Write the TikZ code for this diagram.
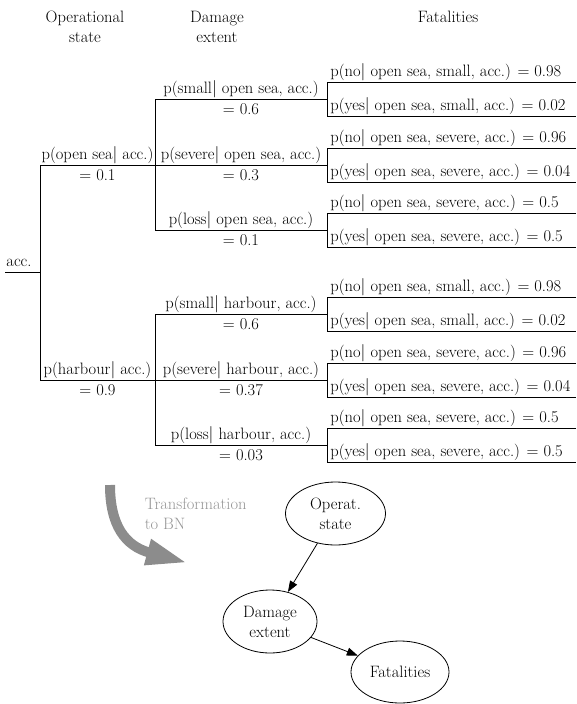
\documentclass[tikz,border=0pt]{standalone}
\usetikzlibrary{arrows.meta,shapes.geometric}
\definecolor{bendgray}{RGB}{140,140,140}
\definecolor{notegray}{RGB}{150,150,150}
\begin{document}
\begin{tikzpicture}[x=1pt,y=-1pt,line width=0.9pt,
  font=\fontsize{16.5}{20}\selectfont,
  uplab/.style={inner sep=0,text height=12pt,text depth=4pt,anchor=south},
  lowlab/.style={inner sep=0,text height=12pt,text depth=4pt,anchor=north},
  leaflab/.style={inner sep=0,text height=12pt,text depth=4pt,anchor=south west},
  bnnode/.style={draw,ellipse,inner sep=0,align=center,line width=0.8pt},
  bnlink/.style={-{Triangle[length=11pt,width=8pt]},line width=0.8pt}]
\useasboundingbox (0,0) rectangle (576,704);

% column headings
\node[align=center] (hOp) at (85,27) {Operational\\state};
\node[align=center] (hDm) at (217,27) {Damage\\extent};
\node (hFa) at (448,17) {Fatalities};

% root and operational state
\coordinate (root) at (5,272);
\coordinate (split) at (40,272);
\coordinate (osA) at (40,165);
\coordinate (hbA) at (40,380);
\coordinate (osB) at (155,165);
\coordinate (hbB) at (155,380);
\node[leaflab,anchor=south west] (accL) at (6,271) {acc.};
\draw (root) -- (split);
\draw (osA) -- (hbA);
\draw (osA) -- (osB);
\draw (hbA) -- (hbB);
\node[uplab] (osU) at (97.5,164) {p(open sea$|$ acc.)};
\node[lowlab] (osD) at (97.5,168) {= 0.1};
\node[uplab] (hbU) at (97.5,379) {p(harbour$|$ acc.)};
\node[lowlab] (hbD) at (97.5,383) {= 0.9};

% damage extent branches
\coordinate (osTop) at (155,99);
\coordinate (osBot) at (155,230);
\coordinate (hbTop) at (155,314);
\coordinate (hbBot) at (155,445);
\draw (osTop) -- (osBot);
\draw (hbTop) -- (hbBot);

\foreach \nm/\y/\up/\dn in {
  a/99/{p(small$|$ open sea, acc.)}/{= 0.6},
  b/165/{p(severe$|$ open sea, acc.)}/{= 0.3},
  c/230/{p(loss$|$ open sea, acc.)}/{= 0.1},
  d/314/{p(small$|$ harbour, acc.)}/{= 0.6},
  e/380/{p(severe$|$ harbour, acc.)}/{= 0.37},
  f/445/{p(loss$|$ harbour, acc.)}/{= 0.03}}{
  \coordinate (d\nm L) at (155,\y);
  \coordinate (d\nm R) at (327,\y);
  \draw (d\nm L) -- (d\nm R);
  \node[uplab] (d\nm U) at (241,\y-1) {\up};
  \node[lowlab] (d\nm D) at (241,\y+3) {\dn};
}

% fatality brackets
\foreach \nm/\y/\no/\yes in {
  a/99/{p(no$|$ open sea, small, acc.) = 0.98}/{p(yes$|$ open sea, small, acc.) = 0.02},
  b/165/{p(no$|$ open sea, severe, acc.) = 0.96}/{p(yes$|$ open sea, severe, acc.) = 0.04},
  c/230/{p(no$|$ open sea, severe, acc.) = 0.5}/{p(yes$|$ open sea, severe, acc.) = 0.5},
  d/314/{p(no$|$ open sea, small, acc.) = 0.98}/{p(yes$|$ open sea, small, acc.) = 0.02},
  e/380/{p(no$|$ open sea, severe, acc.) = 0.96}/{p(yes$|$ open sea, severe, acc.) = 0.04},
  f/445/{p(no$|$ open sea, severe, acc.) = 0.5}/{p(yes$|$ open sea, severe, acc.) = 0.5}}{
  \coordinate (f\nm TR) at (576,\y-17);
  \coordinate (f\nm TL) at (327,\y-17);
  \coordinate (f\nm BL) at (327,\y+17);
  \coordinate (f\nm BR) at (576,\y+17);
  \draw (f\nm TR) -- (f\nm TL) -- (f\nm BL) -- (f\nm BR);
  \node[leaflab] (f\nm N) at (330,\y-18) {\no};
  \node[leaflab] (f\nm Y) at (330,\y+16) {\yes};
}

% transformation arrow
\coordinate (bendS) at (110,485);
\coordinate (bendE) at (188,563);
\draw[bendgray,line width=10pt,-{Triangle[length=42pt,width=24pt]}]
  (bendS) .. controls (110,525) and (125,546) .. (bendE);
\node[notegray,align=left,anchor=west] (note) at (141,513.5) {Transformation\\to BN};

% Bayesian network
\node[bnnode,minimum width=100pt,minimum height=63pt] (os) at (335.5,513.5) {Operat.\\state};
\node[bnnode,minimum width=94pt,minimum height=63pt] (de) at (270,621.5) {Damage\\extent};
\node[bnnode,minimum width=98pt,minimum height=62pt] (fa) at (400,672) {Fatalities};
\draw[bnlink] (os) -- (de);
\draw[bnlink] (de) -- (fa);
\end{tikzpicture}
\end{document}
